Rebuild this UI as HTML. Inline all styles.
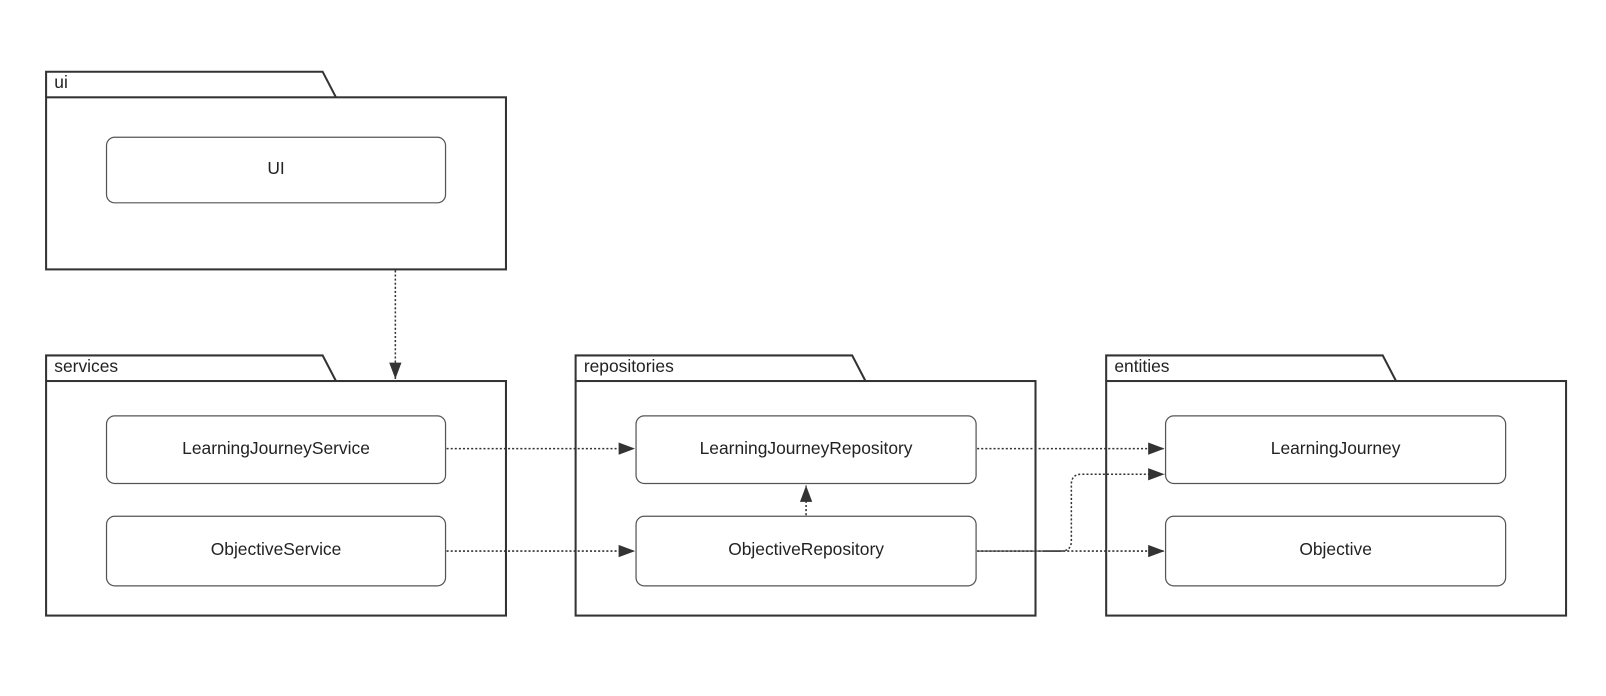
<!DOCTYPE html>
<html><head><style>html,body{margin:0;padding:0;background:#fff;}svg{display:block}</style></head>
<body>
<svg width="1606" height="696" viewBox="0 0 1568 679.5" xmlns="http://www.w3.org/2000/svg" font-family="Liberation Sans, sans-serif">
<defs>
<marker id="a" markerWidth="16" markerHeight="12" refX="16" refY="6" orient="auto" markerUnits="userSpaceOnUse">
<path d="M0,0 L16,6 L0,12 z" fill="#333"/></marker>
</defs>
<g fill="#fff" stroke="#333" stroke-width="2">
<path d="M45,95 V70 H315 L328,95"/><rect x="45" y="95" width="449" height="168"/>
<path d="M45,372 V347 H315 L328,372"/><rect x="45" y="372" width="449" height="229"/>
<path d="M562,372 V347 H832 L845,372"/><rect x="562" y="372" width="449" height="229"/>
<path d="M1080,372 V347 H1350 L1363,372"/><rect x="1080" y="372" width="449" height="229"/>
</g>
<g fill="#fff" stroke="#555" stroke-width="1.2">
<rect x="104" y="134" width="331" height="64" rx="8"/>
<rect x="104" y="406" width="331" height="66" rx="8"/>
<rect x="104" y="504" width="331" height="68" rx="8"/>
<rect x="621" y="406" width="332" height="66" rx="8"/>
<rect x="621" y="504" width="332" height="68" rx="8"/>
<rect x="1138" y="406" width="332" height="66" rx="8"/>
<rect x="1138" y="504" width="332" height="68" rx="8"/>
</g>
<g font-size="17" fill="#222">
<text x="53" y="86">ui</text>
<text x="53" y="363">services</text>
<text x="570" y="363">repositories</text>
<text x="1088" y="363">entities</text>
</g>
<g font-size="17" fill="#222" text-anchor="middle">
<text x="269.5" y="170">UI</text>
<text x="269.5" y="443">LearningJourneyService</text>
<text x="269.5" y="542">ObjectiveService</text>
<text x="787" y="443">LearningJourneyRepository</text>
<text x="787" y="542">ObjectiveRepository</text>
<text x="1304" y="443">LearningJourney</text>
<text x="1304" y="542">Objective</text>
</g>
<g fill="none" stroke="#333" stroke-width="1.5" stroke-dasharray="2,2">
<path d="M386,264 V370" marker-end="url(#a)"/>
<path d="M436,438 H620" marker-end="url(#a)"/>
<path d="M436,538 H620" marker-end="url(#a)"/>
<path d="M954,438 H1137" marker-end="url(#a)"/>
<path d="M954,538 H1137" marker-end="url(#a)"/>
<path d="M787,503 V474" marker-end="url(#a)"/>
<path d="M1020,538 H1036 Q1046,538 1046,528 V473 Q1046,463 1056,463 H1137" marker-end="url(#a)"/>
</g>
<path d="M954,538 H1036" stroke="#333" stroke-width="1.2"/>
</svg>
</body></html>
